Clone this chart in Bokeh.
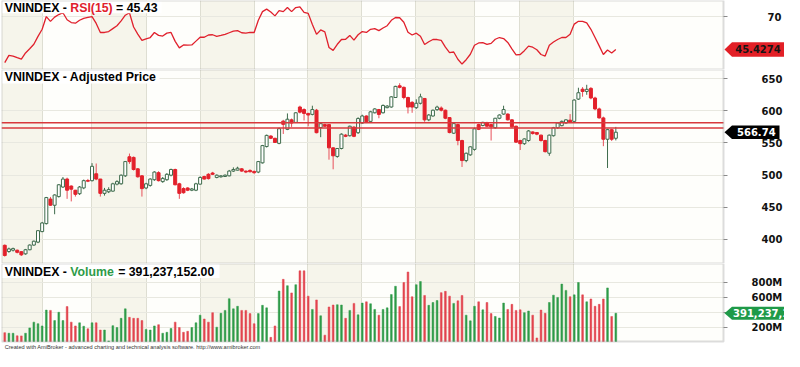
from bokeh.plotting import figure
from bokeh.layouts import column
from bokeh.models import (Range1d, FixedTicker, BoxAnnotation, Span, Label,
                          PolyAnnotation, ColumnDataSource, LinearAxis)
from bokeh.embed import file_html
from bokeh.resources import INLINE

# ---------------- data ----------------
opens = [390.6, 381.0, 383.0, 383.0, 380.7, 377.3, 383.7, 391.0, 395.6, 412.0,
         424.4, 462.6, 453.0, 466.5, 481.4, 493.8, 482.9, 476.4, 471.0, 480.0,
         491.5, 491.3, 502.0, 493.8, 471.5, 474.0, 475.0, 485.9, 486.4, 498.8,
         528.5, 527.5, 509.7, 498.8, 479.9, 483.9, 492.8, 503.7, 489.8, 492.8,
         499.8, 508.7, 486.4, 478.9, 479.9, 476.4, 476.4, 485.9, 497.8, 501.2,
         503.2, 496.3, 497.3, 497.8, 498.8, 506.2, 507.7, 509.7, 506.2, 507.2,
         505.7, 504.7, 519.0, 544.4, 560.8, 557.3, 549.4, 584.0, 571.2, 586.0,
         582.0, 606.0, 602.0, 596.0, 594.5, 601.0, 574.0, 578.6, 578.6, 542.4,
         529.0, 541.4, 562.2, 561.3, 574.7, 566.0, 581.0, 592.0, 583.6, 597.0,
         602.0, 597.0, 605.0, 606.0, 620.8, 639.0, 636.6, 620.8, 613.3, 605.0,
         611.8, 619.3, 586.0, 592.0, 601.9, 604.4, 601.0, 589.5, 565.2, 578.6,
         553.8, 522.6, 531.5, 540.0, 578.6, 577.1, 581.0, 578.6, 573.7, 588.5,
         595.0, 595.0, 586.0, 576.1, 553.8, 548.9, 553.8, 567.2, 566.2, 562.2,
         553.8, 534.0, 561.3, 573.7, 577.0, 581.0, 585.5, 583.6, 618.3, 633.7,
         630.2, 635.0, 620.0, 603.0, 589.0, 555.8, 570.7, 557.3]
highs = [392.0, 387.0, 387.0, 384.0, 381.5, 385.0, 392.0, 398.0, 414.0, 427.0,
         466.0, 466.0, 470.0, 486.0, 497.0, 496.0, 484.0, 477.0, 483.0, 493.0,
         494.0, 518.6, 518.0, 494.0, 480.0, 481.0, 488.0, 492.0, 501.0, 522.0,
         533.5, 529.0, 511.0, 500.0, 488.0, 495.0, 506.0, 506.0, 497.0, 503.0,
         510.0, 510.0, 488.0, 481.0, 481.0, 480.0, 488.0, 498.0, 499.0, 503.0,
         505.0, 501.0, 500.0, 501.0, 508.0, 512.0, 513.0, 511.0, 507.0, 509.0,
         507.0, 522.0, 547.0, 563.0, 562.0, 558.0, 574.0, 586.0, 596.0, 588.0,
         598.0, 608.0, 604.0, 597.0, 608.0, 603.0, 581.0, 580.0, 579.0, 543.4,
         542.0, 565.0, 564.0, 577.0, 576.0, 590.0, 594.0, 593.0, 600.0, 604.0,
         603.0, 610.0, 609.0, 623.0, 639.0, 643.0, 638.0, 622.0, 615.0, 618.0,
         626.7, 620.0, 595.0, 602.0, 608.0, 607.0, 602.0, 590.0, 581.0, 580.0,
         555.0, 535.0, 545.0, 574.0, 580.0, 583.0, 583.0, 579.5, 589.0, 594.5,
         608.0, 596.0, 587.0, 577.0, 555.0, 557.0, 570.0, 568.0, 567.0, 563.0,
         555.0, 563.0, 575.0, 582.0, 585.0, 587.0, 595.0, 618.0, 636.0, 637.0,
         640.6, 637.0, 622.0, 605.0, 591.0, 572.0, 572.0, 575.0]
lows = [373.0, 379.0, 381.0, 378.0, 374.0, 376.0, 383.0, 390.0, 394.0, 411.0,
        423.0, 452.0, 439.0, 465.0, 480.0, 463.0, 459.0, 466.5, 469.0, 478.0,
        489.0, 490.0, 492.0, 466.5, 468.0, 472.0, 474.0, 484.0, 485.0, 497.0,
        517.5, 507.0, 496.0, 466.5, 478.0, 482.0, 491.0, 490.0, 488.0, 491.0,
        498.0, 484.0, 463.0, 471.0, 475.0, 475.0, 475.0, 485.0, 493.0, 493.0,
        500.0, 495.0, 496.0, 497.0, 498.0, 505.0, 507.0, 505.0, 503.0, 504.0,
        502.0, 503.0, 518.0, 543.0, 556.0, 550.0, 548.0, 564.0, 570.0, 575.0,
        581.0, 596.0, 585.0, 576.0, 593.0, 565.0, 559.0, 575.0, 524.0, 509.0,
        527.0, 540.0, 559.0, 560.0, 559.0, 564.0, 580.0, 581.0, 582.0, 596.0,
        588.5, 596.0, 604.0, 605.0, 620.0, 635.0, 618.0, 596.0, 597.0, 603.0,
        610.0, 583.0, 584.0, 591.0, 600.0, 599.0, 587.0, 565.0, 564.0, 546.4,
        512.6, 520.0, 530.0, 538.0, 570.0, 576.0, 575.0, 553.8, 572.0, 587.0,
        594.0, 585.0, 574.0, 550.0, 539.0, 547.0, 552.0, 563.0, 562.0, 552.0,
        535.0, 530.0, 560.0, 572.0, 576.0, 580.0, 581.0, 582.5, 617.0, 622.0,
        625.0, 618.0, 601.0, 588.0, 545.0, 511.0, 553.0, 554.0]
closes = [374.8, 385.0, 385.5, 379.7, 375.8, 383.7, 391.0, 397.0, 413.4, 425.4,
          465.0, 453.1, 469.0, 484.9, 493.8, 476.4, 478.0, 470.0, 481.4, 491.3,
          490.5, 513.6, 493.8, 471.5, 476.4, 477.4, 486.4, 489.8, 499.8, 521.0,
          521.0, 508.7, 497.3, 478.9, 486.4, 493.8, 504.7, 491.3, 494.8, 501.2,
          508.7, 484.9, 471.5, 472.5, 476.4, 478.4, 486.4, 496.3, 493.8, 494.5,
          501.2, 499.8, 498.8, 499.8, 506.2, 508.7, 510.7, 506.2, 504.7, 505.2,
          503.7, 521.0, 545.9, 561.8, 557.3, 550.8, 572.2, 579.0, 587.0, 581.0,
          597.0, 598.0, 596.0, 593.5, 602.0, 566.0, 580.0, 576.0, 542.4, 530.0,
          541.4, 563.7, 560.3, 576.1, 560.3, 588.0, 592.0, 583.0, 598.5, 603.0,
          594.5, 608.4, 607.4, 621.8, 638.1, 636.6, 620.8, 605.9, 605.9, 611.8,
          621.8, 586.0, 593.5, 601.0, 605.9, 601.0, 588.5, 566.2, 580.1, 553.8,
          522.6, 534.0, 544.0, 572.0, 571.2, 582.1, 576.1, 575.1, 588.5, 593.5,
          602.0, 586.0, 575.1, 551.3, 548.9, 556.3, 568.7, 564.7, 563.7, 553.8,
          536.5, 562.2, 573.7, 581.0, 583.6, 586.0, 582.0, 616.8, 628.2, 630.2,
          633.5, 620.0, 603.0, 589.0, 555.8, 570.7, 555.8, 566.74]
volume_m = [131, 123, 123, 89, 88, 123, 195, 272, 251, 221,
            433, 429, 293, 404, 293, 480, 272, 221, 263, 217,
            183, 263, 263, 166, 166, 20, 225, 200, 323, 450,
            336, 323, 323, 293, 175, 166, 221, 238, 123, 136,
            187, 272, 200, 136, 149, 200, 263, 365, 314, 272,
            399, 204, 391, 429, 586, 450, 484, 429, 429, 386,
            251, 386, 497, 463, 68, 221, 688, 845, 760, 663,
            773, 959, 959, 620, 442, 569, 357, 98, 475, 501,
            505, 501, 323, 429, 523, 370, 527, 544, 518, 442,
            365, 442, 463, 641, 752, 480, 803, 943, 612, 773,
            816, 629, 497, 535, 561, 667, 684, 620, 523, 557,
            629, 365, 289, 484, 544, 437, 535, 386, 348, 327,
            527, 442, 510, 429, 437, 399, 421, 365, 60, 433,
            391, 535, 633, 603, 781, 697, 612, 637, 803, 637,
            544, 582, 484, 510, 582, 730, 348, 391.237152]
rsi = [35.5, 40.9, 40.4, 39.2, 38.1, 42.8, 45.9, 49.3, 55.3, 60.6,
       70.2, 66.6, 69.8, 71.7, 73.1, 67.8, 65.7, 65.2, 67.4, 68.8,
       69.5, 70.2, 65.0, 58.2, 58.2, 58.9, 61.1, 63.3, 66.9, 71.2,
       73.1, 62.3, 57.0, 52.2, 53.4, 54.4, 58.2, 56.0, 55.5, 57.7,
       58.2, 51.5, 46.6, 48.8, 48.6, 48.8, 51.7, 54.6, 54.6, 56.3,
       56.5, 55.3, 56.0, 56.8, 58.0, 59.2, 59.6, 58.0, 57.7, 58.2,
       58.2, 67.4, 73.9, 75.8, 73.6, 70.7, 74.6, 73.9, 77.0, 73.9,
       77.0, 77.5, 73.4, 72.6, 64.2, 56.8, 60.1, 58.7, 46.9, 44.7,
       49.3, 52.9, 53.1, 56.0, 52.4, 56.5, 58.9, 58.2, 60.6, 61.1,
       59.6, 61.6, 63.3, 67.4, 69.5, 69.3, 65.9, 58.4, 56.3, 57.7,
       55.3, 49.1, 51.2, 52.9, 52.9, 52.2, 47.1, 43.0, 43.5, 38.0,
       34.4, 37.7, 41.8, 48.6, 50.3, 50.5, 49.3, 50.0, 53.1, 54.4,
       53.6, 50.7, 45.9, 41.3, 41.6, 44.5, 47.9, 47.1, 45.2, 41.6,
       40.4, 48.6, 51.0, 52.9, 54.4, 54.4, 56.8, 64.5, 66.6, 66.6,
       65.4, 60.6, 54.4, 48.1, 41.6, 45.0, 42.8, 45.4274]
band_edges = [9.0, 20.8, 34.1, 47.1, 60.0, 72.9, 85.9, 98.8, 112.9, 123.8, 136.9]
shaded_bands = [(-0.78, 9.0), (20.8, 34.1), (47.1, 60.0), (72.9, 85.9), (98.8, 112.9), (123.8, 136.9)]
level_lines = [581.5, 573.2]
price_ticks = [400, 450, 500, 550, 600, 650]
rsi_ticks = [70]
vol_ticks = [200e6, 400e6, 600e6, 800e6]
vol_tick_labels = {200e6: "200M", 400e6: "", 600e6: "600M", 800e6: "800M"}
rsi_title = [("VNINDEX - ", "black"), ("RSI(15)", "#E0202C"), (" = 45.43", "black")]
price_title = [("VNINDEX - Adjusted Price", "black")]
vol_title = [("VNINDEX - ", "black"), ("Volume", "#2E9B48"), (" = 391,237,152.00", "black")]
rsi_tag_text = "45.4274"
price_tag_text = "566.74"
vol_tag_text = "391,237,152.00"
footer_text = "Created with AmiBroker - advanced charting and technical analysis software. http://www.amibroker.com"

# ---------------- layout constants ----------------
W = 784
BL = 1
FWF = W - BL            # full frame width (plot area + axis area)
PA = 722                # plot area width in px
X0, X1 = -0.78, 172.9   # plot area x extent (bar index)
PERPX = (X1 - X0) / PA
XE = X0 + FWF * PERPX
H_RSI, H_PRICE, H_VOLP, FOOT = 69, 194, 78, 10
RSI_R = (30.3, 82.3)
PRICE_R = (362.3, 664.4)
VOL_R = (12.7e6, 1057e6)

UP_LINE = "#3E6B4C"
DOWN = "#E3202B"
VOL_UP = "#2E9B48"
VOL_DOWN = "#E2444E"
BG = "#FEFEFB"
BAND = "#F6F5EB"
BORDER = "#8a8a8a"
TITLE_FONT = "Liberation Sans"
TITLE_SIZE = 12.3
AX_FONT = "DejaVu Sans"

ARIAL_BOLD = {" ": 278, "-": 333, "=": 584, "(": 333, ")": 333, ",": 278, ".": 278,
              "V": 667, "N": 722, "I": 278, "D": 722, "E": 667, "X": 667, "R": 722,
              "S": 667, "A": 722, "P": 667, "d": 611, "j": 278, "u": 611, "s": 556,
              "t": 333, "e": 556, "r": 389, "i": 278, "c": 556, "o": 611, "l": 278,
              "m": 889}


def text_w(s, size):
    return sum(ARIAL_BOLD.get(ch, 556) for ch in s) * size / 1000.0


def xpx(px):
    return X0 + px * PERPX


def ypx(rng, fh, px_from_top):
    return rng[1] - px_from_top * (rng[1] - rng[0]) / fh


def make_fig(ph, yr, ticks, standoff, extra_bottom=0):
    per = (yr[1] - yr[0]) / ph
    ylo = yr[0] - extra_bottom * per
    p = figure(width=W, height=ph + extra_bottom, x_range=Range1d(X0, XE),
               y_range=Range1d(ylo, yr[1]),
               output_backend="svg", toolbar_location=None, x_axis_location=None,
               y_axis_location=None, min_border_left=BL, min_border_right=0,
               min_border_top=0, min_border_bottom=0,
               background_fill_color="white", border_fill_color="white",
               outline_line_color=None)
    p.xgrid.ticker = FixedTicker(ticks=band_edges)
    p.xgrid.grid_line_color = "#DEDED2"
    p.ygrid.ticker = FixedTicker(ticks=ticks)
    p.ygrid.grid_line_color = "#E8E8E0"
    # plot-area background and month bands
    p.add_layout(BoxAnnotation(left=X0, right=X1, bottom=yr[0], fill_color=BG,
                               fill_alpha=1.0, line_color=None, level="image"))
    for a, b in shaded_bands:
        p.add_layout(BoxAnnotation(left=a, right=b, bottom=yr[0], fill_color=BAND,
                                   fill_alpha=1.0, line_color=None, level="image"))
    # white axis area (hides grid lines beyond the plot area)
    p.add_layout(BoxAnnotation(left=X1, fill_color="white", fill_alpha=1.0,
                               line_color=None, level="underlay"))
    if extra_bottom:
        p.add_layout(BoxAnnotation(top=yr[0], fill_color="white", fill_alpha=1.0,
                                   line_color=None, level="underlay"))
    ax = LinearAxis(fixed_location=X1, ticker=FixedTicker(ticks=ticks))
    ax.axis_line_color = None
    ax.major_tick_line_color = BORDER
    ax.major_tick_in = 0
    ax.major_tick_out = 4
    ax.minor_tick_line_color = None
    ax.major_label_standoff = standoff
    ax.major_label_text_font = AX_FONT
    ax.major_label_text_font_style = "bold"
    ax.major_label_text_font_size = "10px"
    ax.major_label_text_color = "#111111"
    p.add_layout(ax, "right")
    return p, ax


def add_frame_and_title(p, parts, yr, fh, box_w, box_h, text_top):
    p.add_layout(BoxAnnotation(left=X0, right=xpx(box_w), top=yr[1],
                               bottom=ypx(yr, fh, box_h), fill_color="white",
                               fill_alpha=1.0, line_color=None))
    p.add_layout(BoxAnnotation(left=X0, right=X1, top=yr[1], bottom=yr[0],
                               fill_alpha=0.0, line_color=BORDER, line_width=2))
    full = ""
    x0 = 3.2
    for txt, col in parts:
        lead = len(txt) - len(txt.lstrip(" "))
        xs = x0 + text_w(full + txt[:lead], TITLE_SIZE)
        p.add_layout(Label(x=xpx(xs), y=ypx(yr, fh, text_top), text=txt.strip(),
                           text_font=TITLE_FONT, text_font_style="bold",
                           text_font_size=f"{TITLE_SIZE}px", text_color=col,
                           text_baseline="top", text_align="left"))
        full += txt


def add_tag(p, value, text, yr, fh, fill, tcol, box_right, text_off, half=7.0):
    hh = half * (yr[1] - yr[0]) / fh
    xs = [xpx(PA + 1), xpx(PA + 8.5), xpx(PA + box_right), xpx(PA + box_right), xpx(PA + 8.5)]
    ys = [value, value + hh, value + hh, value - hh, value - hh]
    p.add_layout(PolyAnnotation(xs=xs, ys=ys, fill_color=fill, fill_alpha=1.0,
                                line_color=None))
    p.add_layout(Label(x=xpx(PA + text_off), y=value, text=text, text_font=AX_FONT,
                       text_font_style="bold", text_font_size="10px", text_color=tcol,
                       text_baseline="middle", text_align="left"))


idx = list(range(len(closes)))
up = [c >= o for o, c in zip(opens, closes)]
src = ColumnDataSource(dict(
    x=idx, o=opens, h=highs, l=lows, c=closes,
    top=[max(o, c) for o, c in zip(opens, closes)],
    bot=[min(o, c) for o, c in zip(opens, closes)],
    line=[UP_LINE if u else DOWN for u in up],
    fill=["white" if u else DOWN for u in up],
    wick=[UP_LINE if u else "#E8505A" for u in up],
    vol=[v * 1e6 for v in volume_m],
    vcol=[VOL_UP if u else VOL_DOWN for u in up],
    rsi=rsi,
))

# ---------------- RSI panel ----------------
p1, a1 = make_fig(H_RSI, RSI_R, rsi_ticks, 40)
p1.line("x", "rsi", source=src, line_color="#E0202C", line_width=1.3)
add_frame_and_title(p1, rsi_title, RSI_R, H_RSI, 160, 12.7, 0.3)
add_tag(p1, rsi[-1], rsi_tag_text, RSI_R, H_RSI, "#E21F26", "#151515", 64, 11.7, 7.3)

# ---------------- Price panel ----------------
p2, a2 = make_fig(H_PRICE, PRICE_R, price_ticks, 34)
for lv in level_lines:
    p2.add_layout(Span(location=lv, dimension="width", line_color="#D8383C",
                       line_width=1.6, level="glyph"))
p2.add_layout(BoxAnnotation(left=X1, fill_color="white", fill_alpha=1.0,
                            line_color=None, level="glyph"))
p2.segment(x0="x", y0="h", x1="x", y1="l", source=src, line_color="wick", line_width=1)
p2.vbar(x="x", width=0.72, top="top", bottom="bot", source=src,
        fill_color="fill", line_color="line", line_width=1)
add_frame_and_title(p2, price_title, PRICE_R, H_PRICE, 158, 14, 0.8)
add_tag(p2, closes[-1], price_tag_text, PRICE_R, H_PRICE, "black", "white", 56, 13.5, 6.8)

# ---------------- Volume panel ----------------
p3, a3 = make_fig(H_VOLP, VOL_R, vol_ticks, 24, extra_bottom=FOOT)
a3.major_label_overrides = vol_tick_labels
p3.vbar(x="x", width=0.42, top="vol", bottom=VOL_R[0], source=src,
        fill_color="vcol", line_color="vcol", line_width=0.5)
add_frame_and_title(p3, vol_title, VOL_R, H_VOLP, 218, 14.5, 1.5)
add_tag(p3, volume_m[-1] * 1e6, vol_tag_text, VOL_R, H_VOLP, "#1F9A48", "white", 64, 9.5, 6.6)
p3.add_layout(Label(x=xpx(3.2), y=ypx(VOL_R, H_VOLP, H_VOLP + 2.0), text=footer_text,
                    text_font="Liberation Sans", text_font_size="5.6px",
                    text_color="#333333", text_baseline="top", text_align="left"))

layout = column(p1, p2, p3, spacing=0)
open("out.html", "w").write(file_html(layout, INLINE))
